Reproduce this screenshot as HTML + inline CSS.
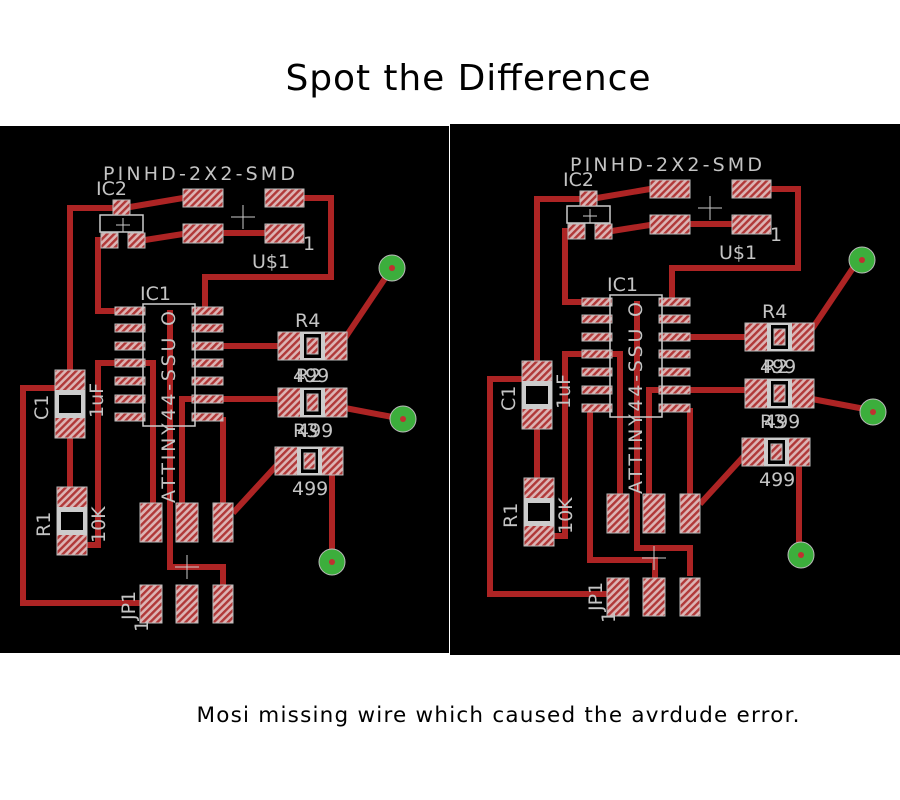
<!DOCTYPE html>
<html><head><meta charset="utf-8"><style>
html,body{margin:0;padding:0;background:#fff;width:900px;height:800px;overflow:hidden}
svg{display:block}
.t{stroke:#ad2424;stroke-width:6;fill:none}
.p{fill:url(#h);stroke:#bbb;stroke-width:1}
.l{fill:#c4c4c4;font-family:"DejaVu Sans","Liberation Sans",sans-serif;font-size:19px}
</style></head><body>
<svg width="900" height="800" viewBox="0 0 900 800" xmlns="http://www.w3.org/2000/svg">
<defs>
<pattern id="h" width="5" height="5" patternUnits="userSpaceOnUse" patternTransform="rotate(45)">
<rect width="5" height="5" fill="#dcb4b4"/><rect width="2.4" height="5" fill="#b03838"/>
</pattern>
</defs>
<rect width="900" height="800" fill="#fff"/>
<text x="468" y="90" text-anchor="middle" font-family="DejaVu Sans,Liberation Sans,sans-serif" font-size="36" fill="#000" textLength="365">Spot the Difference</text>
<text x="498" y="722" text-anchor="middle" font-family="DejaVu Sans,Liberation Sans,sans-serif" font-size="21.5" fill="#000" textLength="603">Mosi missing wire which caused the avrdude error.</text>
<rect x="0" y="126" width="449" height="527" fill="#000"/>
<rect x="450" y="124" width="450" height="531" fill="#000"/>

<!-- LEFT BOARD -->
<g>
<g class="t">
<polyline points="70,370 70,208 115,208"/>
<line x1="130" y1="207" x2="183" y2="198"/>
<polyline points="304,198 331,198 331,277 205,277 205,307"/>
<line x1="145" y1="240" x2="183" y2="234"/>
<line x1="223" y1="233" x2="265" y2="233"/>
<polyline points="103,240 98,240 98,311 117,311"/>
<line x1="70" y1="438" x2="70" y2="487"/>
<polyline points="57,388 23,388 23,603 140,603"/>
<polyline points="115,363 98,363 98,545 87,545"/>
<polyline points="145,363 153,363 153,503"/>
<polyline points="170,310 170,567 223,567 223,585"/>
<polyline points="182,505 182,399 278,399"/>
<line x1="223" y1="346" x2="278" y2="346"/>
<line x1="223" y1="417" x2="223" y2="505"/>
<line x1="277" y1="465" x2="233" y2="513"/>
<line x1="345" y1="338" x2="392" y2="268"/>
<line x1="345" y1="408" x2="403" y2="419"/>
<line x1="332" y1="475" x2="332" y2="562"/>
</g>
<text class="l" x="103" y="180" font-size="20" textLength="192">PINHD-2X2-SMD</text>
<text class="l" x="96" y="195">IC2</text>
<rect x="100" y="215" width="43" height="17" fill="none" stroke="#ccc" stroke-width="1.5"/>
<rect class="p" x="113" y="200" width="17" height="15"/>
<rect class="p" x="101" y="233" width="17" height="15"/>
<rect class="p" x="128" y="233" width="17" height="15"/>
<rect class="p" x="183" y="189" width="40" height="18"/>
<rect class="p" x="265" y="189" width="39" height="18"/>
<rect class="p" x="183" y="224" width="40" height="19"/>
<rect class="p" x="265" y="224" width="39" height="19"/>
<path d="M243,205v24M231,217h24M123,218v14M116,225h14" stroke="#ccc" stroke-width="1"/>
<text class="l" x="303" y="250">1</text>
<text class="l" x="252" y="268">U$1</text>
<text class="l" x="140" y="300">IC1</text>
<g class="p">
<rect x="115" y="307" width="30" height="8"/><rect x="115" y="324" width="30" height="8"/><rect x="115" y="342" width="30" height="8"/><rect x="115" y="359" width="30" height="8"/><rect x="115" y="377" width="30" height="8"/><rect x="115" y="395" width="30" height="8"/><rect x="115" y="413" width="30" height="8"/>
<rect x="192" y="307" width="31" height="8"/><rect x="192" y="324" width="31" height="8"/><rect x="192" y="342" width="31" height="8"/><rect x="192" y="359" width="31" height="8"/><rect x="192" y="377" width="31" height="8"/><rect x="192" y="395" width="31" height="8"/><rect x="192" y="413" width="31" height="8"/>
</g>
<rect x="143" y="304" width="52" height="122" fill="none" stroke="#ccc" stroke-width="1.5"/>
<text class="l" transform="translate(175,503) rotate(-90)" font-size="21" textLength="192">ATTINY44-SSU O</text>
<g>
<rect class="p" x="278" y="332" width="69" height="28"/><rect x="300" y="332" width="25" height="28" fill="#ccc"/><rect x="304" y="334" width="17" height="24" fill="#000"/><rect class="p" x="307" y="338" width="11" height="16"/>
<rect class="p" x="278" y="388" width="69" height="29"/><rect x="300" y="388" width="25" height="29" fill="#ccc"/><rect x="304" y="390" width="17" height="25" fill="#000"/><rect class="p" x="307" y="394" width="11" height="17"/>
<rect class="p" x="275" y="447" width="68" height="28"/><rect x="297" y="447" width="25" height="28" fill="#ccc"/><rect x="301" y="449" width="17" height="24" fill="#000"/><rect class="p" x="304" y="453" width="11" height="16"/>
</g>
<text class="l" x="295" y="327">R4</text>
<text class="l" x="293" y="382">499</text><text class="l" x="296" y="382">R2</text>
<text class="l" x="293" y="437">R3</text><text class="l" x="297" y="437">499</text>
<text class="l" x="292" y="495">499</text>
<rect class="p" x="55" y="370" width="30" height="68"/><rect x="55" y="390" width="30" height="28" fill="#ccc"/><rect x="59" y="395" width="22" height="18" fill="#000"/>
<rect class="p" x="57" y="487" width="30" height="68"/><rect x="57" y="507" width="30" height="28" fill="#ccc"/><rect x="61" y="512" width="22" height="18" fill="#000"/>
<text class="l" transform="translate(48,420) rotate(-90)">C1</text>
<text class="l" transform="translate(103,418) rotate(-90)">1uF</text>
<text class="l" transform="translate(50,537) rotate(-90)">R1</text>
<text class="l" transform="translate(105,543) rotate(-90)">10K</text>
<g class="p">
<rect x="140" y="503" width="22" height="39"/><rect x="176" y="503" width="22" height="39"/><rect x="213" y="503" width="20" height="39"/>
<rect x="140" y="585" width="22" height="38"/><rect x="176" y="585" width="22" height="38"/><rect x="213" y="585" width="20" height="38"/>
</g>
<path d="M187,555v24M175,567h24" stroke="#ccc" stroke-width="1"/>
<text class="l" transform="translate(135,620) rotate(-90)">JP1</text>
<text class="l" transform="translate(148,632) rotate(-90)">1</text>
<g fill="#3cae3c" stroke="#bbb"><circle cx="392" cy="268" r="13"/><circle cx="403" cy="419" r="13"/><circle cx="332" cy="562" r="13"/></g>
<g fill="#c03030"><circle cx="392" cy="268" r="3"/><circle cx="403" cy="419" r="3"/><circle cx="332" cy="562" r="3"/></g>
</g>

<!-- RIGHT BOARD -->
<g transform="translate(467,-9)">
<g class="t">
<polyline points="70,370 70,208 115,208"/>
<line x1="130" y1="207" x2="183" y2="198"/>
<polyline points="304,198 331,198 331,277 205,277 205,307"/>
<line x1="145" y1="240" x2="183" y2="234"/>
<line x1="223" y1="233" x2="265" y2="233"/>
<polyline points="103,240 98,240 98,311 117,311"/>
<line x1="70" y1="438" x2="70" y2="487"/>
<polyline points="57,388 23,388 23,603 140,603"/>
<polyline points="115,363 98,363 98,545 87,545"/>
<polyline points="145,363 153,363 153,503"/>
<polyline points="170,310 170,557 223,557 223,585"/>
<polyline points="182,505 182,399 278,399"/>
<line x1="223" y1="346" x2="278" y2="346"/>
<line x1="223" y1="417" x2="223" y2="505"/>
<line x1="277" y1="465" x2="233" y2="513"/>
<line x1="345" y1="338" x2="392" y2="268"/>
<line x1="345" y1="408" x2="403" y2="419"/>
<line x1="332" y1="475" x2="332" y2="562"/>
<polyline points="123,421 123,569 188,569 188,587"/>
</g>
<text class="l" x="103" y="180" font-size="20" textLength="192">PINHD-2X2-SMD</text>
<text class="l" x="96" y="195">IC2</text>
<rect x="100" y="215" width="43" height="17" fill="none" stroke="#ccc" stroke-width="1.5"/>
<rect class="p" x="113" y="200" width="17" height="15"/>
<rect class="p" x="101" y="233" width="17" height="15"/>
<rect class="p" x="128" y="233" width="17" height="15"/>
<rect class="p" x="183" y="189" width="40" height="18"/>
<rect class="p" x="265" y="189" width="39" height="18"/>
<rect class="p" x="183" y="224" width="40" height="19"/>
<rect class="p" x="265" y="224" width="39" height="19"/>
<path d="M243,205v24M231,217h24M123,218v14M116,225h14" stroke="#ccc" stroke-width="1"/>
<text class="l" x="303" y="250">1</text>
<text class="l" x="252" y="268">U$1</text>
<text class="l" x="140" y="300">IC1</text>
<g class="p">
<rect x="115" y="307" width="30" height="8"/><rect x="115" y="324" width="30" height="8"/><rect x="115" y="342" width="30" height="8"/><rect x="115" y="359" width="30" height="8"/><rect x="115" y="377" width="30" height="8"/><rect x="115" y="395" width="30" height="8"/><rect x="115" y="413" width="30" height="8"/>
<rect x="192" y="307" width="31" height="8"/><rect x="192" y="324" width="31" height="8"/><rect x="192" y="342" width="31" height="8"/><rect x="192" y="359" width="31" height="8"/><rect x="192" y="377" width="31" height="8"/><rect x="192" y="395" width="31" height="8"/><rect x="192" y="413" width="31" height="8"/>
</g>
<rect x="143" y="304" width="52" height="122" fill="none" stroke="#ccc" stroke-width="1.5"/>
<text class="l" transform="translate(175,503) rotate(-90)" font-size="21" textLength="192">ATTINY44-SSU O</text>
<g>
<rect class="p" x="278" y="332" width="69" height="28"/><rect x="300" y="332" width="25" height="28" fill="#ccc"/><rect x="304" y="334" width="17" height="24" fill="#000"/><rect class="p" x="307" y="338" width="11" height="16"/>
<rect class="p" x="278" y="388" width="69" height="29"/><rect x="300" y="388" width="25" height="29" fill="#ccc"/><rect x="304" y="390" width="17" height="25" fill="#000"/><rect class="p" x="307" y="394" width="11" height="17"/>
<rect class="p" x="275" y="447" width="68" height="28"/><rect x="297" y="447" width="25" height="28" fill="#ccc"/><rect x="301" y="449" width="17" height="24" fill="#000"/><rect class="p" x="304" y="453" width="11" height="16"/>
</g>
<text class="l" x="295" y="327">R4</text>
<text class="l" x="293" y="382">499</text><text class="l" x="296" y="382">R2</text>
<text class="l" x="293" y="437">R3</text><text class="l" x="297" y="437">499</text>
<text class="l" x="292" y="495">499</text>
<rect class="p" x="55" y="370" width="30" height="68"/><rect x="55" y="390" width="30" height="28" fill="#ccc"/><rect x="59" y="395" width="22" height="18" fill="#000"/>
<rect class="p" x="57" y="487" width="30" height="68"/><rect x="57" y="507" width="30" height="28" fill="#ccc"/><rect x="61" y="512" width="22" height="18" fill="#000"/>
<text class="l" transform="translate(48,420) rotate(-90)">C1</text>
<text class="l" transform="translate(103,418) rotate(-90)">1uF</text>
<text class="l" transform="translate(50,537) rotate(-90)">R1</text>
<text class="l" transform="translate(105,543) rotate(-90)">10K</text>
<g class="p">
<rect x="140" y="503" width="22" height="39"/><rect x="176" y="503" width="22" height="39"/><rect x="213" y="503" width="20" height="39"/>
<rect x="140" y="587" width="22" height="38"/><rect x="176" y="587" width="22" height="38"/><rect x="213" y="587" width="20" height="38"/>
</g>
<path d="M187,555v24M175,567h24" stroke="#ccc" stroke-width="1"/>
<text class="l" transform="translate(135,620) rotate(-90)">JP1</text>
<text class="l" transform="translate(148,632) rotate(-90)">1</text>
<g fill="#3cae3c" stroke="#bbb"><circle cx="395" cy="269" r="13"/><circle cx="406" cy="421" r="13"/><circle cx="334" cy="564" r="13"/></g>
<g fill="#c03030"><circle cx="395" cy="269" r="3"/><circle cx="406" cy="421" r="3"/><circle cx="334" cy="564" r="3"/></g>
</g>
</svg>
</body></html>
